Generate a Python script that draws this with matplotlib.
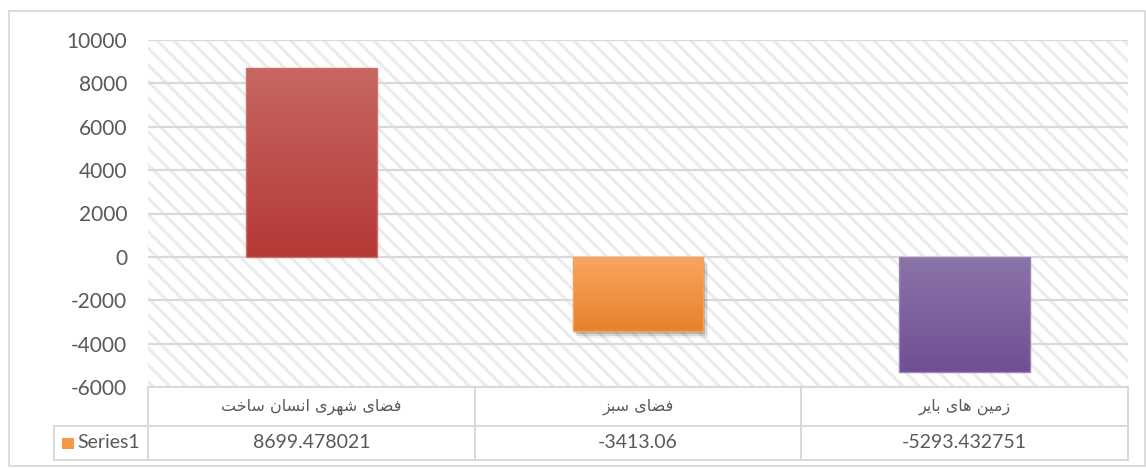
import numpy as np
import matplotlib
matplotlib.use("Agg")
import matplotlib.pyplot as plt
import matplotlib.patheffects as pe
from matplotlib.patches import Rectangle
from matplotlib import transforms
from matplotlib.colors import LinearSegmentedColormap

# ---------------- data ----------------
categories = ["فضای شهری انسان ساخت", "فضای سبز", "زمین های بایر"]
values = [8699.478021, -3413.06, -5293.432751]
value_labels = ["8699.478021", "-3413.06", "-5293.432751"]
series_name = "Series1"
y_ticks = [10000, 8000, 6000, 4000, 2000, 0, -2000, -4000, -6000]

bar_top_colors = ["#c76763", "#f9a560", "#8b74a9"]
bar_bottom_colors = ["#b43935", "#e8812c", "#704f93"]
bar_edge_colors = ["#cf6e6a", "#f7a05a", "#9a85b6"]

# ---------------- Arabic shaping (presentation forms) ----------------
FORMS = {
    'ا': ('\uFE8D', '\uFE8E', None, None),
    'ب': ('\uFE8F', '\uFE90', '\uFE91', '\uFE92'),
    'ت': ('\uFE95', '\uFE96', '\uFE97', '\uFE98'),
    'خ': ('\uFEA5', '\uFEA6', '\uFEA7', '\uFEA8'),
    'ر': ('\uFEAD', '\uFEAE', None, None),
    'ز': ('\uFEAF', '\uFEB0', None, None),
    'س': ('\uFEB1', '\uFEB2', '\uFEB3', '\uFEB4'),
    'ش': ('\uFEB5', '\uFEB6', '\uFEB7', '\uFEB8'),
    'ض': ('\uFEBD', '\uFEBE', '\uFEBF', '\uFEC0'),
    'ف': ('\uFED1', '\uFED2', '\uFED3', '\uFED4'),
    'م': ('\uFEE1', '\uFEE2', '\uFEE3', '\uFEE4'),
    'ن': ('\uFEE5', '\uFEE6', '\uFEE7', '\uFEE8'),
    'ه': ('\uFEE9', '\uFEEA', '\uFEEB', '\uFEEC'),
    'ی': ('\uFBFC', '\uFBFD', '\uFBFE', '\uFBFF'),
}


def shape(text):
    chars = list(text)
    out = []
    for i, c in enumerate(chars):
        if c not in FORMS:
            out.append(c)
            continue
        prev = chars[i - 1] if i > 0 else None
        nxt = chars[i + 1] if i + 1 < len(chars) else None
        jp = prev in FORMS and FORMS[prev][2] is not None
        jn = FORMS[c][2] is not None and nxt in FORMS
        iso, fin, ini, med = FORMS[c]
        if jp and jn:
            out.append(med)
        elif jp:
            out.append(fin)
        elif jn:
            out.append(ini)
        else:
            out.append(iso)
    return ''.join(reversed(out))


# ---------------- figure ----------------
plt.rcParams['font.family'] = ['Lato', 'DejaVu Sans']
W, H = 1146, 468
fig = plt.figure(figsize=(W / 100, H / 100), dpi=100)
fig.patch.set_facecolor("white")

L, R, T, B = 148, 1128, 40, 387
ax = fig.add_axes([L / W, (H - B) / H, (R - L) / W, (B - T) / H])
ax.set_facecolor("white")

TEXT = "#595959"
GRID = "#d9d9d9"

# outer chart border
fig.add_artist(Rectangle((9 / W, 1 - 466 / H), (1145 - 9) / W, (466 - 11) / H,
                         transform=fig.transFigure, fill=False,
                         edgecolor=GRID, linewidth=1.3))

# hatched plot background
plt.rcParams['hatch.linewidth'] = 2.2
ax.add_patch(Rectangle((0, 0), 1, 1, transform=ax.transAxes, facecolor="white",
                       edgecolor="#ebebeb", linewidth=0, hatch="\\\\", zorder=0))

x = np.arange(len(categories))
bars = ax.bar(x, values, width=0.4, color=bar_top_colors, zorder=3,
              linewidth=0)

# soft shadow on the middle bar
bars[1].set_path_effects([
    pe.SimplePatchShadow(offset=(3.5, -5), shadow_rgbFace="black", alpha=0.06),
    pe.SimplePatchShadow(offset=(2.5, -3.8), shadow_rgbFace="black", alpha=0.10),
    pe.SimplePatchShadow(offset=(1.5, -2.5), shadow_rgbFace="black", alpha=0.14),
    pe.Normal()])

for p, ct, cb, ce in zip(bars, bar_top_colors, bar_bottom_colors, bar_edge_colors):
    x0, w = p.get_x(), p.get_width()
    y0, h = p.get_y(), p.get_height()
    lo, hi = min(y0, y0 + h), max(y0, y0 + h)
    cmap = LinearSegmentedColormap.from_list("g", [ct, cb])
    grad = np.linspace(0, 1, 256).reshape(-1, 1)
    im = ax.imshow(grad, cmap=cmap, extent=[x0, x0 + w, lo, hi], origin="upper",
                   aspect="auto", zorder=4, interpolation="bilinear")
    im.set_clip_path(p)
    ax.add_patch(Rectangle(p.get_xy(), w, h, fill=False, edgecolor=ce,
                           linewidth=1.0, zorder=5))

ax.set_xlim(-0.5, len(categories) - 0.5)
ax.set_ylim(min(y_ticks), max(y_ticks))
ax.set_yticks(y_ticks)
ax.set_yticklabels([str(t) for t in y_ticks])
ax.tick_params(axis="y", length=0, pad=15, labelsize=15, labelcolor=TEXT)
ax.set_xticks([])
for s in ax.spines.values():
    s.set_visible(False)
ax.grid(axis="y", color=GRID, linewidth=1.6, zorder=1)
ax.set_axisbelow(True)

# ---------------- data table ----------------
def ay(py):
    return (B - py) / (B - T)

def ax_(px):
    return (px - L) / (R - L)

bt = transforms.blended_transform_factory(ax.transData, ax.transAxes)
row1_top, row1_bot, row2_bot = ay(387), ay(426), ay(460)
lw = 1.4

# horizontal lines
ax.plot([0, 1], [row1_top, row1_top], transform=ax.transAxes, color=GRID, lw=lw, clip_on=False)
ax.plot([ax_(54), 1], [row1_bot, row1_bot], transform=ax.transAxes, color=GRID, lw=lw, clip_on=False)
ax.plot([ax_(54), 1], [row2_bot, row2_bot], transform=ax.transAxes, color=GRID, lw=lw, clip_on=False)
# vertical lines
for i in range(len(categories) + 1):
    ax.plot([i - 0.5, i - 0.5], [row1_top, row2_bot], transform=bt, color=GRID,
            lw=lw, clip_on=False)
ax.plot([ax_(54), ax_(54)], [row1_bot, row2_bot], transform=ax.transAxes,
        color=GRID, lw=lw, clip_on=False)

for i, (cat, vl) in enumerate(zip(categories, value_labels)):
    ax.text(i, (row1_top + row1_bot) / 2, shape(cat), transform=bt, ha="center",
            va="center", fontsize=11.5, color=TEXT, family=['DejaVu Sans'])
    ax.text(i, (row1_bot + row2_bot) / 2, vl, transform=bt, ha="center",
            va="center", fontsize=14, color=TEXT)

# legend key
ax.add_patch(Rectangle((ax_(62), ay(449)), ax_(74) - ax_(62), ay(438) - ay(449),
                       transform=ax.transAxes, facecolor="#f79646",
                       edgecolor="none", clip_on=False, zorder=5))
ax.text(ax_(77), (row1_bot + row2_bot) / 2, series_name, transform=ax.transAxes,
        ha="left", va="center", fontsize=14, color=TEXT)

fig.savefig("out.png", dpi=100, facecolor="white")
